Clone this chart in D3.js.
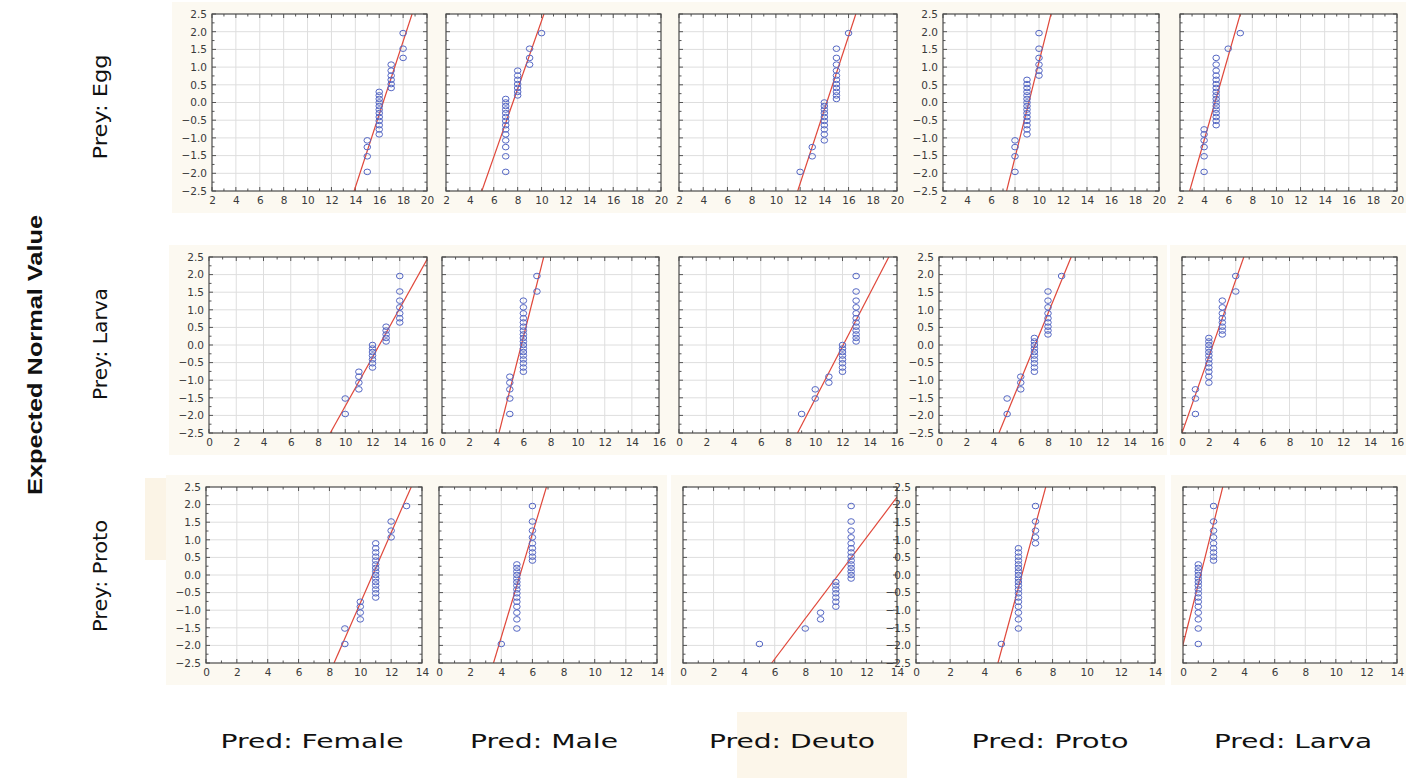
<!DOCTYPE html>
<html>
<head>
	<meta charset="utf-8">
	<title>Normal probability plots</title>
	<script type="text/javascript" src="https://d3js.org/d3.v7.min.js"></script>
	<style>
		body { margin: 0; background: #fff; }
	</style>
</head>
<body>
	<div id="chart"></div>
	<script>
	// expected normal value of each of the 25 ranks (same in every panel)
	var expectedNormal = [-1.96, -1.52, -1.26, -1.07, -0.90, -0.76, -0.64, -0.52, -0.41, -0.30, -0.20, -0.10, 0.00,
		0.10, 0.20, 0.30, 0.41, 0.52, 0.64, 0.76, 0.90, 1.07, 1.26, 1.52, 1.96];

	var predators = ["Female", "Male", "Deuto", "Proto", "Larva"];
	var preys = ["Egg", "Larva", "Proto"];

	var yTicks = [-2.5, -2.0, -1.5, -1.0, -0.5, 0.0, 0.5, 1.0, 1.5, 2.0, 2.5];
	var xTicksEgg = [2, 4, 6, 8, 10, 12, 14, 16, 18, 20];
	var xTicksLarva = [0, 2, 4, 6, 8, 10, 12, 14, 16];
	var xTicksProto = [0, 2, 4, 6, 8, 10, 12, 14];

	// observed values (sorted) - prey: Egg
	var eggFemale = [15,15,15,15,16,16,16,16,16,16,16,16,16,16,16,16,17,17,17,17,17,17,18,18,18];
	var eggMale   = [7,7,7,7,7,7,7,7,7,7,7,7,7,7,8,8,8,8,8,8,8,9,9,9,10];
	var eggDeuto  = [12,13,13,14,14,14,14,14,14,14,14,14,14,15,15,15,15,15,15,15,15,15,15,15,16];
	var eggProto  = [8,8,8,8,9,9,9,9,9,9,9,9,9,9,9,9,9,9,9,10,10,10,10,10,10];
	var eggLarva  = [4,4,4,4,4,4,5,5,5,5,5,5,5,5,5,5,5,5,5,5,5,5,5,6,7];

	// prey: Larva
	var larvaFemale = [10,10,11,11,11,11,12,12,12,12,12,12,12,13,13,13,13,13,14,14,14,14,14,14,14];
	var larvaMale   = [5,5,5,5,5,6,6,6,6,6,6,6,6,6,6,6,6,6,6,6,6,6,6,7,7];
	var larvaDeuto  = [9,10,10,11,11,12,12,12,12,12,12,12,12,13,13,13,13,13,13,13,13,13,13,13,13];
	var larvaProto  = [5,5,6,6,6,7,7,7,7,7,7,7,7,7,7,8,8,8,8,8,8,8,8,8,9];
	var larvaLarva  = [1,1,1,2,2,2,2,2,2,2,2,2,2,2,2,3,3,3,3,3,3,3,3,4,4];

	// prey: Proto
	var protoFemale = [9,9,10,10,10,10,11,11,11,11,11,11,11,11,11,11,11,11,11,11,11,12,12,12,13];
	var protoMale   = [4,5,5,5,5,5,5,5,5,5,5,5,5,5,5,5,6,6,6,6,6,6,6,6,6];
	var protoDeuto  = [5,8,9,9,10,10,10,10,10,10,10,11,11,11,11,11,11,11,11,11,11,11,11,11,11];
	var protoProto  = [5,6,6,6,6,6,6,6,6,6,6,6,6,6,6,6,6,6,6,6,7,7,7,7,7];
	var protoLarva  = [1,1,1,1,1,1,1,1,1,1,1,1,1,1,1,1,2,2,2,2,2,2,2,2,2];

	// fitted normal line: x where it crosses -2.5 and 2.5
	var fitLowEgg    = [13.9, 5.0, 11.8, 7.3, 2.8];
	var fitHighEgg   = [18.75, 10.2, 16.6, 11.0, 7.0];
	var fitLowLarva  = [8.9, 4.2, 8.7, 4.4, 0.0];
	var fitHighLarva = [16.1, 7.5, 15.4, 9.7, 4.6];
	var fitLowProto  = [8.3, 3.5, 5.8, 4.8, -0.3];
	var fitHighProto = [13.3, 6.9, 14.5, 7.6, 2.6];

	var observed = [
		[eggFemale, eggMale, eggDeuto, eggProto, eggLarva],
		[larvaFemale, larvaMale, larvaDeuto, larvaProto, larvaLarva],
		[protoFemale, protoMale, protoDeuto, protoProto, protoLarva]
	];
	var fitLow = [fitLowEgg, fitLowLarva, fitLowProto];
	var fitHigh = [fitHighEgg, fitHighLarva, fitHighProto];
	var xTicks = [xTicksEgg, xTicksLarva, xTicksProto];

	// layout of the plot boxes
	var rowTop = [14, 257, 487];
	var rowBottom = [191, 433, 663];
	var boxLeft = [[212, 446, 679, 943, 1180], [209, 442, 679, 939, 1182], [206, 439, 683, 916, 1183]];
	var boxRight = [[427, 661, 897, 1159, 1397], [427, 659, 897, 1157, 1397], [422, 657, 897, 1155, 1397]];
	var hasYLabels = [true, false, false, true, false];

	var width = 1406;
	var height = 778;
	var cream = "#fcf9f1";
	var fontFamily = "'DejaVu Sans', Verdana, sans-serif";

	var svg = d3.select("#chart")
		.append("svg")
		.attr("width", width)
		.attr("height", height)
		.style("font-family", fontFamily);

	// pasted-in backgrounds
	var bg = svg.append("g");
	bg.append("rect").attr("x", 145).attr("y", 478).attr("width", 60).attr("height", 82).attr("fill", "#fbf4e6");
	bg.append("rect").attr("x", 737).attr("y", 712).attr("width", 170).attr("height", 66).attr("fill", "#fcf6ea");
	preys.forEach(function(prey, r) {
		predators.forEach(function(pred, c) {
			var l = boxLeft[r][c], rt = boxRight[r][c];
			bg.append("rect")
				.attr("x", l - (hasYLabels[c] ? 40 : 12))
				.attr("y", rowTop[r] - 12)
				.attr("width", rt - l + (hasYLabels[c] ? 50 : 22))
				.attr("height", rowBottom[r] - rowTop[r] + 34)
				.attr("fill", cream);
		});
	});

	preys.forEach(function(prey, r) {
		predators.forEach(function(pred, c) {
			var ticks = xTicks[r];
			var x = d3.scaleLinear()
				.domain([ticks[0], ticks[ticks.length - 1]])
				.range([boxLeft[r][c], boxRight[r][c]]);
			var y = d3.scaleLinear()
				.domain([-2.5, 2.5])
				.range([rowBottom[r], rowTop[r]]);
			var x0 = x.range()[0], x1 = x.range()[1];
			var y0 = y.range()[1], y1 = y.range()[0];

			var g = svg.append("g");

			g.append("rect")
				.attr("x", x0).attr("y", y0)
				.attr("width", x1 - x0).attr("height", y1 - y0)
				.attr("fill", "#fff");

			// grid
			g.selectAll(".gx").data(ticks.slice(1, -1)).enter().append("line")
				.attr("x1", function(d) { return x(d); })
				.attr("x2", function(d) { return x(d); })
				.attr("y1", y0).attr("y2", y1)
				.attr("stroke", "#dedede").attr("stroke-width", 1);
			g.selectAll(".gy").data(yTicks.slice(1, -1)).enter().append("line")
				.attr("y1", function(d) { return y(d); })
				.attr("y2", function(d) { return y(d); })
				.attr("x1", x0).attr("x2", x1)
				.attr("stroke", "#dedede").attr("stroke-width", 1);

			// inward ticks on all four sides
			var xMinor = d3.range(ticks[0], ticks[ticks.length - 1] + 0.01, 1);
			var yMinor = d3.range(-2.5, 2.51, 0.25);
			xMinor.forEach(function(v) {
				var len = (Math.abs(v % 2) < 0.01) ? 4 : 2.5;
				g.append("line").attr("x1", x(v)).attr("x2", x(v)).attr("y1", y1).attr("y2", y1 - len).attr("stroke", "#555");
				g.append("line").attr("x1", x(v)).attr("x2", x(v)).attr("y1", y0).attr("y2", y0 + len).attr("stroke", "#555");
			});
			yMinor.forEach(function(v, i) {
				var len = (i % 2 === 0) ? 4 : 2.5;
				g.append("line").attr("y1", y(v)).attr("y2", y(v)).attr("x1", x0).attr("x2", x0 + len).attr("stroke", "#555");
				g.append("line").attr("y1", y(v)).attr("y2", y(v)).attr("x1", x1).attr("x2", x1 - len).attr("stroke", "#555");
			});

			// fitted line, clipped to the box
			var clipId = "clip-" + r + "-" + c;
			g.append("clipPath").attr("id", clipId)
				.append("rect").attr("x", x0).attr("y", y0).attr("width", x1 - x0).attr("height", y1 - y0);
			g.append("line")
				.attr("clip-path", "url(#" + clipId + ")")
				.attr("x1", x(fitLow[r][c])).attr("y1", y(-2.5))
				.attr("x2", x(fitHigh[r][c])).attr("y2", y(2.5))
				.attr("stroke", "#e0473a").attr("stroke-width", 1.2);

			// points
			g.selectAll(".pt").data(observed[r][c]).enter().append("ellipse")
				.attr("cx", function(d) { return x(d); })
				.attr("cy", function(d, i) { return y(expectedNormal[i]); })
				.attr("rx", 3.3).attr("ry", 2.8)
				.attr("fill", "none")
				.attr("stroke", "#5567c4")
				.attr("stroke-width", 1);

			// box
			g.append("rect")
				.attr("x", x0).attr("y", y0)
				.attr("width", x1 - x0).attr("height", y1 - y0)
				.attr("fill", "none").attr("stroke", "#4a4a4a").attr("stroke-width", 1.2);

			// axes labels
			var xAxis = d3.axisBottom(x).tickValues(ticks).tickSize(0).tickPadding(6);
			var ax = g.append("g").attr("transform", "translate(0," + y1 + ")").call(xAxis);
			ax.select(".domain").remove();
			ax.selectAll("text").attr("font-size", 10.5).attr("fill", "#3a3a3a")
				.style("font-family", fontFamily);

			if (hasYLabels[c]) {
				var yAxis = d3.axisLeft(y).tickValues(yTicks).tickSize(0).tickPadding(5).tickFormat(d3.format(".1f"));
				var ay = g.append("g").attr("transform", "translate(" + x0 + ",0)").call(yAxis);
				ay.select(".domain").remove();
				ay.selectAll("text").attr("font-size", 10.5).attr("fill", "#3a3a3a")
					.style("font-family", fontFamily);
			}
		});
	});

	// row titles
	var rowLabelY = [107, 344, 576];
	var rowLabelLen = [105, 112, 112];
	preys.forEach(function(prey, r) {
		svg.append("text")
			.attr("transform", "translate(100," + rowLabelY[r] + ") rotate(-90)")
			.attr("text-anchor", "middle")
			.attr("dominant-baseline", "central")
			.attr("font-size", 20)
			.attr("fill", "#111")
			.attr("textLength", rowLabelLen[r])
			.attr("lengthAdjust", "spacingAndGlyphs")
			.text("Prey: " + prey);
	});

	// column titles
	var colLabelX = [312, 544, 792, 1050, 1293];
	var colLabelLen = [183, 148, 166, 157, 158];
	predators.forEach(function(pred, c) {
		svg.append("text")
			.attr("x", colLabelX[c])
			.attr("y", 748)
			.attr("text-anchor", "middle")
			.attr("font-size", 20)
			.attr("fill", "#111")
			.attr("textLength", colLabelLen[c])
			.attr("lengthAdjust", "spacingAndGlyphs")
			.text("Pred: " + pred);
	});

	svg.append("text")
		.attr("transform", "translate(35,355) rotate(-90)")
		.attr("text-anchor", "middle")
		.attr("dominant-baseline", "central")
		.attr("font-size", 20)
		.attr("font-weight", "bold")
		.attr("fill", "#111")
		.attr("textLength", 280)
		.attr("lengthAdjust", "spacingAndGlyphs")
		.style("font-family", "'Liberation Sans', Arial, sans-serif")
		.text("Expected Normal Value");
	</script>
</body>
</html>
